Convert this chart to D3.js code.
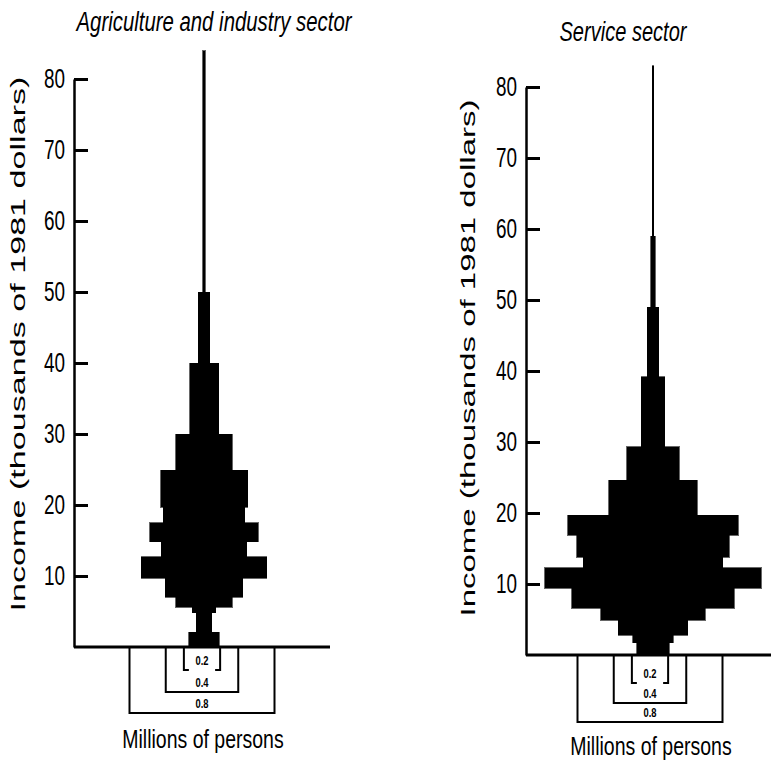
<!DOCTYPE html>
<html><head><meta charset="utf-8">
<script src="https://cdn.jsdelivr.net/npm/d3@7"></script>
<style>body{margin:0;background:#fff}</style>
</head><body><svg id="c" width="771" height="765"></svg>
<script>
// ---------------- data ----------------
const sectorTitles = ["Agriculture and industry sector", "Service sector"];
const yTickValues = [10, 20, 30, 40, 50, 60, 70, 80];
// income bins (thousands of 1981 dollars) and bar width in millions of persons
const agriLow     = [0, 2.1, 4.8, 5.6, 7.0, 9.7, 12.7, 14.8, 17.5, 19.7, 24.9, 30, 40, 50];
const agriHigh    = [2.1, 4.8, 5.6, 7.0, 9.7, 12.7, 14.8, 17.5, 19.7, 24.9, 30, 40, 50, 84];
const agriPersons = [0.171, 0.083, 0.127, 0.314, 0.425, 0.690, 0.469, 0.596, 0.447, 0.480, 0.314, 0.160, 0.066, 0.014];
const servLow     = [0, 1.7, 2.8, 4.9, 6.6, 9.4, 12.3, 13.8, 16.9, 19.7, 24.6, 29.3, 39.2, 49, 59];
const servHigh    = [1.7, 2.8, 4.9, 6.6, 9.4, 12.3, 13.8, 16.9, 19.7, 24.6, 29.3, 39.2, 49, 59, 83];
const servPersons = [0.177, 0.221, 0.386, 0.574, 0.894, 1.197, 0.767, 0.839, 0.943, 0.491, 0.292, 0.132, 0.066, 0.025, 0.011];
const legendValues = [0.8, 0.4, 0.2];
const legendLabels = ["0.8", "0.4", "0.2"];
const xLabel = "Millions of persons";
const yLabel = "Income (thousands of 1981 dollars)";

// ---------------- layout ----------------
const FONT = "'Liberation Sans', Arial, Helvetica, sans-serif";
const panels = [
  {title: sectorTitles[0], low: agriLow, high: agriHigh, persons: agriPersons,
   axisX: 74, y0: 647, y80: 79, cx: 204, lcx: 202, xEnd: 330,
   titleX: 214, titleY: 31, titleLen: 275,
   yLabX: 25, yLabY: 344, yLabLen: 535,
   xLabX: 203, xLabY: 748, legDepth: {0.8: 66, 0.4: 45, 0.2: 23}},
  {title: sectorTitles[1], low: servLow, high: servHigh, persons: servPersons,
   axisX: 526, y0: 655, y80: 87, cx: 653, lcx: 650, xEnd: 771,
   titleX: 623, titleY: 41, titleLen: 127,
   yLabX: 475, yLabY: 358, yLabLen: 517,
   xLabX: 651, xLabY: 755, legDepth: {0.8: 67, 0.4: 48, 0.2: 28}}
];

const svg = d3.select("#c");
svg.append("rect").attr("width", 771).attr("height", 765).attr("fill", "#fff");

function condense(sel, f) {
  sel.each(function () {
    const l = this.getComputedTextLength();
    d3.select(this).attr("textLength", l * f).attr("lengthAdjust", "spacingAndGlyphs");
  });
}

panels.forEach(p => {
  const y = d3.scaleLinear().domain([0, 80]).range([p.y0, p.y80]);
  const w = d3.scaleLinear().domain([0, 0.8]).range([0, 145]);
  const g = svg.append("g");

  // bars (symmetric about the centre line)
  const data = p.low.map((lo, j) => ({lo, hi: p.high[j], v: p.persons[j]}));
  g.selectAll("rect.bar").data(data).join("rect")
    .attr("class", "bar")
    .attr("x", d => p.cx - w(d.v) / 2)
    .attr("width", d => w(d.v))
    .attr("y", d => y(d.hi))
    .attr("height", d => y(d.lo) - y(d.hi))
    .attr("fill", "#000")
    .attr("stroke", "#000").attr("stroke-width", 0.6)
    .attr("shape-rendering", "crispEdges");

  // y axis
  const axis = d3.axisLeft(y).tickValues(yTickValues)
    .tickSizeInner(-14).tickSizeOuter(0).tickPadding(9);
  const ag = g.append("g").attr("transform", `translate(${p.axisX},0)`).call(axis)
    .attr("font-family", FONT).attr("font-size", 27);
  ag.select(".domain").attr("stroke", "#000").attr("stroke-width", 2.5);
  ag.selectAll(".tick line").attr("stroke", "#000").attr("stroke-width", 3);
  ag.selectAll(".tick text").attr("fill", "#000").call(condense, 0.7);

  // baseline (x axis)
  g.append("line").attr("x1", p.axisX).attr("x2", p.xEnd)
    .attr("y1", y(0)).attr("y2", y(0))
    .attr("stroke", "#000").attr("stroke-width", 3);

  // title
  g.append("text").attr("x", p.titleX).attr("y", p.titleY)
    .attr("text-anchor", "middle").attr("font-family", FONT)
    .attr("font-style", "italic").attr("font-size", 27)
    .attr("textLength", p.titleLen).attr("lengthAdjust", "spacingAndGlyphs")
    .text(p.title);

  // y label
  g.append("text").attr("transform", `translate(${p.yLabX},${p.yLabY}) rotate(-90)`)
    .attr("text-anchor", "middle").attr("font-family", FONT).attr("font-size", 21)
    .attr("textLength", p.yLabLen).attr("lengthAdjust", "spacingAndGlyphs")
    .text(yLabel);

  // legend brackets
  const base = y(0);
  legendValues.forEach((v, k) => {
    const half = w(v) / 2, x1 = p.lcx - half, x2 = p.lcx + half;
    const bottom = base + p.legDepth[v];
    let path;
    if (v === 0.2) {
      path = `M${x1},${base}V${bottom}H${x1 + 5}M${x2},${base}V${bottom}H${x2 - 5}`;
    } else {
      path = `M${x1},${base}V${bottom}H${x2}V${base}`;
    }
    g.append("path").attr("d", path).attr("fill", "none")
      .attr("stroke", "#000").attr("stroke-width", 2);
    g.append("text").attr("x", p.lcx).attr("y", bottom - 5)
      .attr("text-anchor", "middle").attr("font-family", FONT)
      .attr("font-weight", "bold").attr("font-size", 12)
      .attr("textLength", 13).attr("lengthAdjust", "spacingAndGlyphs")
      .text(legendLabels[k]);
  });

  // x label (horizontally condensed via scale)
  g.append("text").attr("transform", `translate(${p.xLabX},${p.xLabY}) scale(0.78,1)`)
    .attr("text-anchor", "middle").attr("font-family", FONT).attr("font-size", 25)
    .text(xLabel);
});
</script>
</body></html>
